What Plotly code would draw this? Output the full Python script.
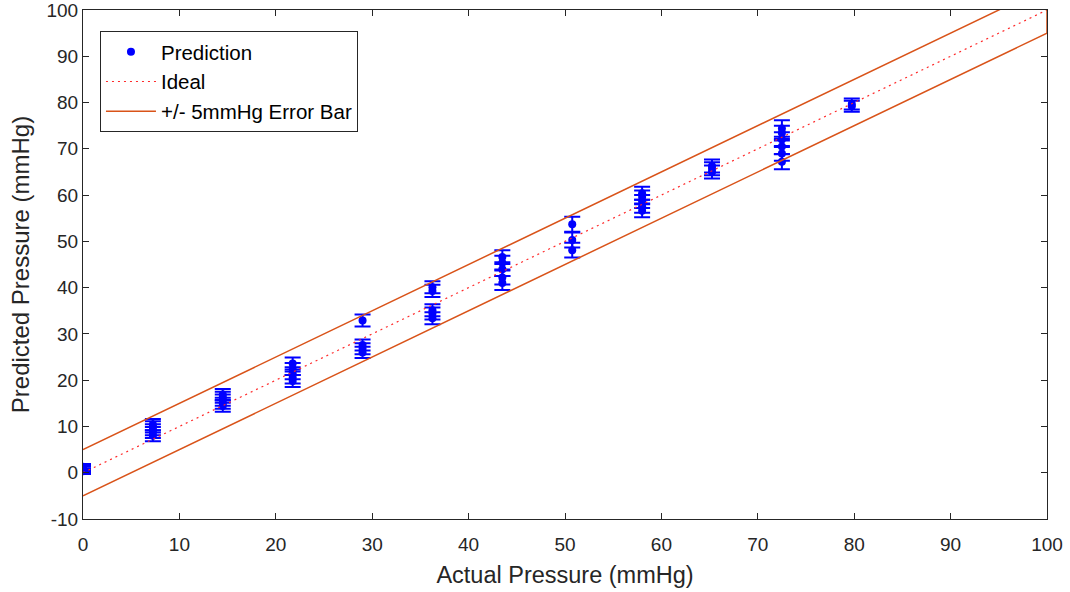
import plotly.graph_objects as go

# ---- data ----
actual_levels = [0.0, 7.25, 14.5, 21.75, 29.0, 36.25, 43.5, 50.75, 58.0, 65.25, 72.5, 79.75]

predicted = [
    [0.3, 0.7, 1.0, 1.3],
    [8.0, 8.7, 9.3, 9.9, 10.4],
    [14.4, 15.0, 15.7, 16.3, 16.9],
    [19.8, 20.6, 21.5, 22.4, 23.6],
    [26.0, 26.8, 27.6, 32.9],
    [33.4, 34.4, 35.1, 39.3, 40.1],
    [41.0, 42.2, 44.0, 45.4, 46.6],
    [48.1, 50.3, 53.7],
    [56.6, 57.6, 58.6, 59.6, 60.4],
    [65.0, 65.7, 66.3],
    [67.2, 69.0, 70.5, 72.0, 73.4, 74.4],
    [79.2, 79.7],
]

errors = [
    [0.6, 0.6, 0.6, 0.6],
    [1.2, 1.2, 1.2, 1.2, 1.2],
    [1.2, 1.2, 1.2, 1.2, 1.2],
    [1.3, 1.3, 1.3, 1.3, 1.3],
    [1.2, 1.2, 1.2, 1.3],
    [1.3, 1.3, 1.3, 1.3, 1.3],
    [1.5, 1.5, 1.5, 1.5, 1.5],
    [1.6, 1.6, 1.6],
    [1.4, 1.4, 1.4, 1.4, 1.4],
    [1.4, 1.4, 1.4],
    [1.6, 1.6, 1.6, 1.6, 1.6, 1.8],
    [1.2, 1.2],
]

tolerance = 5
axis_min, axis_max = 0, 100
y_min = -10
tick_vals = list(range(0, 101, 10))
y_tick_vals = list(range(-10, 101, 10))
tick_text = [str(v) for v in tick_vals]
y_tick_text = [str(v) for v in y_tick_vals]

# ---- build ----
xs, ys, es = [], [], []
for lvl, preds, errs in zip(actual_levels, predicted, errors):
    for p, e in zip(preds, errs):
        xs.append(lvl)
        ys.append(p)
        es.append(e)

font_family = "Liberation Sans, Arial, sans-serif"
dark = "#262626"

fig = go.Figure()

fig.add_trace(go.Scatter(
    x=xs, y=ys, mode="markers", name="Prediction",
    marker=dict(color="#0000ff", size=8),
    error_y=dict(type="data", array=es, visible=True, color="#0000ff",
                 thickness=2, width=8),
))

fig.add_trace(go.Scatter(
    x=[axis_min, axis_max], y=[axis_min, axis_max], mode="lines", name="Ideal",
    line=dict(color="#ff2a2a", dash="2px,4px", width=1.2),
))

fig.add_trace(go.Scatter(
    x=[axis_min, axis_max, axis_max, axis_min],
    y=[axis_min - tolerance, axis_max - tolerance, axis_max + tolerance, axis_min + tolerance],
    mode="lines", name="+/- 5mmHg Error Bar",
    line=dict(color="#D95319", width=1.5),
))

axis_common = dict(
    showgrid=False, zeroline=False, showline=True, linecolor=dark, linewidth=1,
    mirror="ticks", ticks="inside", ticklen=6, tickcolor=dark, tickwidth=1,
    tickfont=dict(family=font_family, size=19, color=dark),
    automargin=False, ticklabeloverflow="allow",
)

fig.update_layout(
    width=1070, height=592,
    margin=dict(l=83, r=23, t=10, b=73),
    paper_bgcolor="white", plot_bgcolor="white",
    font=dict(family=font_family, color=dark),
    xaxis=dict(range=[axis_min, axis_max], tickvals=tick_vals, ticktext=tick_text,
               ticklabelstandoff=8,
               title=dict(text="Actual Pressure (mmHg)", font=dict(size=23.5, color=dark), standoff=12),
               **axis_common),
    yaxis=dict(range=[y_min, axis_max], tickvals=y_tick_vals, ticktext=y_tick_text,
               title=dict(text="Predicted Pressure (mmHg)", font=dict(size=24, color=dark), standoff=10),
               **axis_common),
    legend=dict(x=0.0176, y=0.9587, xanchor="left", yanchor="top",
                bordercolor=dark, borderwidth=1, bgcolor="white",
                font=dict(family=font_family, size=20.5, color="black"),
                itemwidth=50),
    showlegend=True,
)

fig.write_html("out.html")
